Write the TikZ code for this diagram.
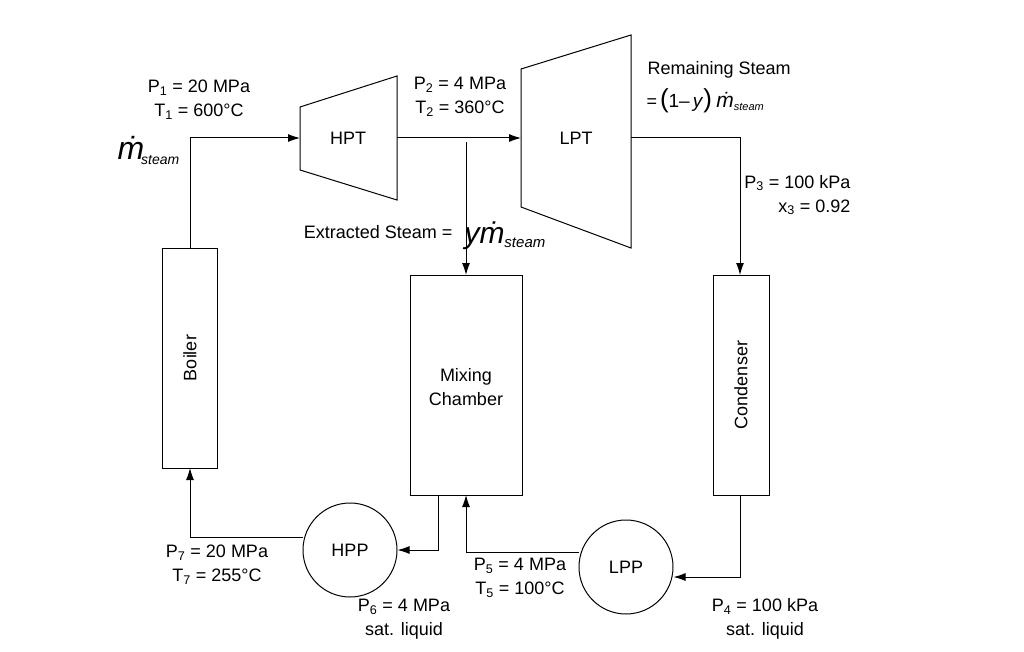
\documentclass[tikz,border=0pt]{standalone}
\usepackage{fontspec}
\setmainfont{Liberation Sans}
\usetikzlibrary{arrows.meta}
\begin{document}
\begin{tikzpicture}[x=1pt,y=-1pt,line width=1pt,
  lbl/.style={font=\fontsize{18}{24}\selectfont,align=center,inner sep=0pt},
  pump/.style={draw,circle,minimum size=94pt,inner sep=0pt,font=\fontsize{18}{24}\selectfont},
  arr/.style={-{Latex[length=12pt,width=8pt]}}]
\useasboundingbox (0,0) rectangle (1024,652);
% components
\draw (300,107) -- (397,76) -- (397,200) -- (300,170) -- cycle;
\node[lbl] (hpt) at (348,138) {HPT};
\draw (521,69) -- (631,35) -- (631,248) -- (521,207) -- cycle;
\node[lbl] (lpt) at (576,138) {LPT};
\draw (162,248) rectangle (217,468);
\node[lbl,rotate=90] (boiler) at (190,358) {Boiler};
\draw (410,275) rectangle (522,495);
\node[lbl] (mix) at (466,387) {Mixing\\Chamber};
\draw (713,275) rectangle (769,495);
\node[lbl,rotate=90] (cond) at (741,385) {Condenser};
\node[pump] (hpp) at (350,550) {HPP};
\node[pump] (lpp) at (626,567) {LPP};
\coordinate (b1) at (190,248);
\coordinate (h1) at (300,138);
\coordinate (h2) at (397,138);
\coordinate (l1) at (521,138);
\coordinate (l2) at (631,138);
\coordinate (e1) at (466,142);
\coordinate (m1) at (466,275);
\coordinate (c1) at (740,275);
\coordinate (c2) at (740,495);
\coordinate (m2) at (438,495);
\coordinate (m3) at (466,495);
\coordinate (b2) at (190,468);
% connectors
\draw[arr] (b1) -- (190,138) -- (h1);
\draw[arr] (h2) -- (l1);
\draw[arr] (e1) -- (m1);
\draw[arr] (l2) -- (740,138) -- (c1);
\draw[arr] (c2) -- (740,577) -- (lpp.east |- 0,577);
\draw[arr] (lpp.west |- 0,552) -- (466,552) -- (m3);
\draw[arr] (m2) -- (438,550) -- (hpp.east);
\draw[arr] (hpp.west |- 0,537) -- (190,537) -- (b2);
% labels
\node[lbl] (p1) at (199,100) {P\textsubscript{1} = 20 MPa\\T\textsubscript{1} = 600°C};
\node[lbl,anchor=base west] (ms) at (117,160) {\fontsize{32}{32}\selectfont\textit{\.{m}}\kern-3pt\raisebox{-5pt}{\fontsize{14}{14}\selectfont\textit{steam}}};
\node[lbl] (p2) at (460,97) {P\textsubscript{2} = 4 MPa\\T\textsubscript{2} = 360°C};
\node[lbl,anchor=west] (rs) at (647,70) {Remaining Steam};
\node[lbl,anchor=west] (rs2) at (646,101) {=\,\fontsize{26}{26}\selectfont(\fontsize{19}{19}\selectfont1–\,\textit{y}\fontsize{26}{26}\selectfont)\,\fontsize{21}{21}\selectfont\textit{\.{m}}\raisebox{-3pt}{\fontsize{11}{11}\selectfont\textit{steam}}};
\node[lbl,align=right,anchor=east] (p3) at (851,195) {P\textsubscript{3} = 100 kPa\\x\textsubscript{3} = 0.92};
\node[lbl,anchor=east] (ex) at (453,232) {Extracted Steam =};
\node[lbl,anchor=west] (ym) at (464,236) {\fontsize{30}{30}\selectfont\textit{y\.{m}}\raisebox{-4pt}{\fontsize{15}{15}\selectfont\textit{steam}}};
\node[lbl] (p7) at (217,565) {P\textsubscript{7} = 20 MPa\\T\textsubscript{7} = 255°C};
\node[lbl] (p6) at (404,619) {P\textsubscript{6} = 4 MPa\\sat. liquid};
\node[lbl] (p5) at (520,578) {P\textsubscript{5} = 4 MPa\\T\textsubscript{5} = 100°C};
\node[lbl] (p4) at (765,619) {P\textsubscript{4} = 100 kPa\\sat. liquid};
\end{tikzpicture}
\end{document}
